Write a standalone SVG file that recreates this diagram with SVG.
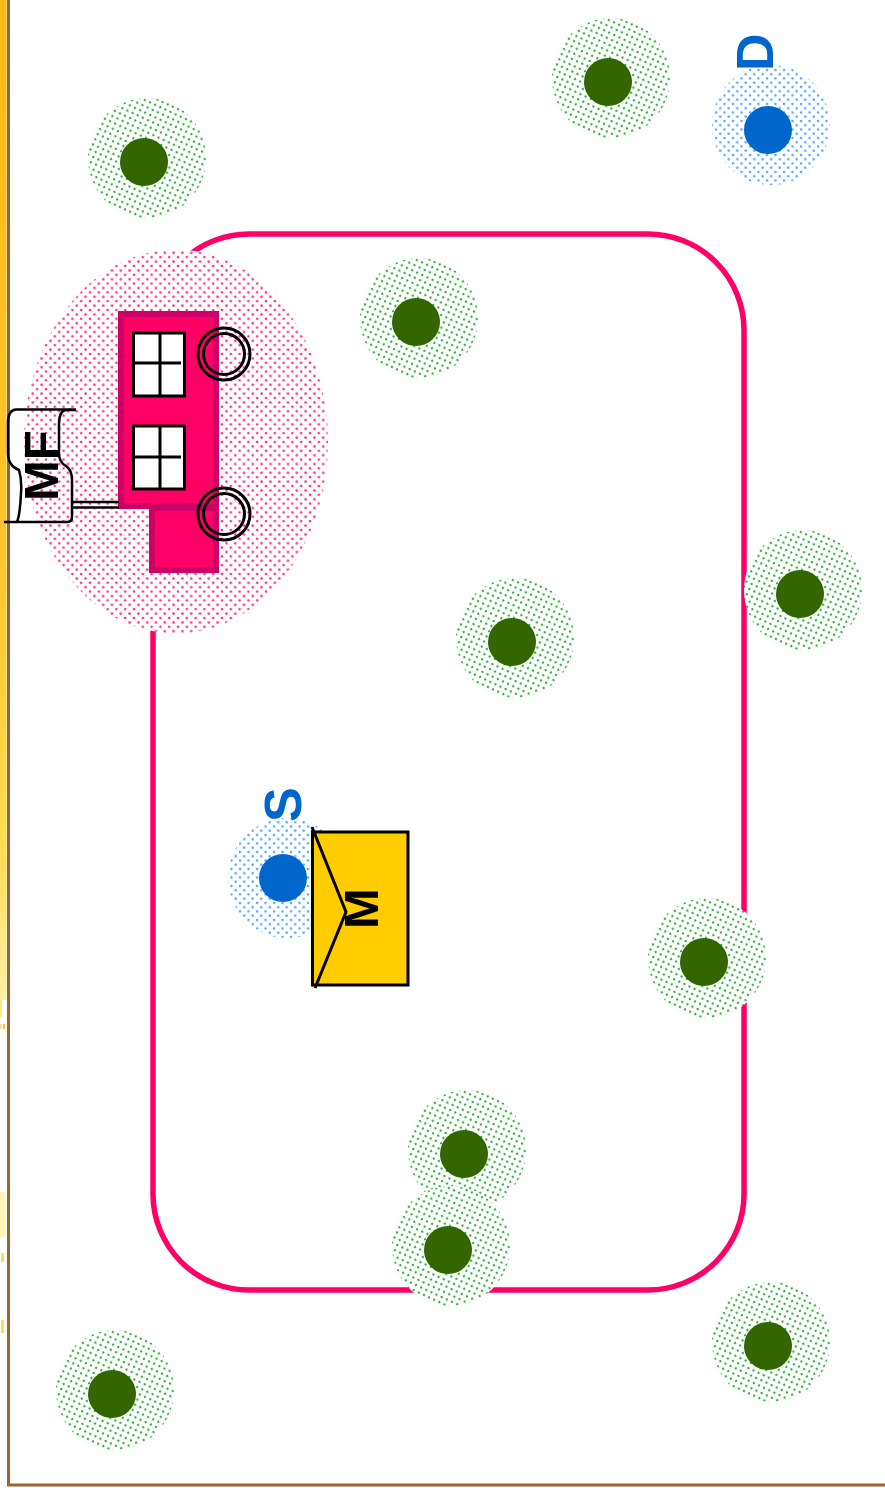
<svg xmlns="http://www.w3.org/2000/svg" width="885" height="1491" viewBox="0 0 885 1491">
<style>
.halo{stroke:none}
.ln{fill:none;stroke:#000;stroke-width:3}
.win{fill:#fff;stroke:#000;stroke-width:3}
.lab{font-family:"Liberation Sans",Arial,sans-serif;font-weight:bold;font-size:49px}
.big{font-size:52px}
.blue{fill:#06c}
.tree{fill:#360}
</style>
<defs>
<linearGradient id="gold" x1="0" y1="0" x2="0" y2="1">
<stop offset="0" stop-color="#fdb913"/><stop offset=".55" stop-color="#fdc42c"/><stop offset=".85" stop-color="#ffdb50"/><stop offset="1" stop-color="#fff0a8"/>
</linearGradient>
<pattern id="pg" width="8" height="8" patternUnits="userSpaceOnUse" patternTransform="rotate(-20)">
<rect width="8" height="8" fill="#fff"/><circle cx="2" cy="2" r="1.200" fill="#2fae3c"/><circle cx="6" cy="6" r="1.200" fill="#2fae3c"/>
</pattern>
<pattern id="pb" width="8.500" height="8.500" patternUnits="userSpaceOnUse">
<rect width="8.500" height="8.500" fill="#fff"/><circle cx="2" cy="2" r="1.300" fill="#4da6ff"/><circle cx="6.250" cy="6.250" r="1.300" fill="#4da6ff"/>
</pattern>
<pattern id="pp" width="8.800" height="8.800" patternUnits="userSpaceOnUse">
<rect width="8.800" height="8.800" fill="#fff"/><circle cx="2" cy="2" r="1.300" fill="#ff2a80"/><circle cx="6.400" cy="6.400" r="1.300" fill="#ff2a80"/>
</pattern>
<g id="t"><ellipse class="halo" cx="3" cy="-4" rx="59" ry="60" fill="url(#pg)"/><circle class="tree" r="24"/></g>
</defs>
<rect width="885" height="1491" fill="#fff"/>
<g id="frame">
<rect x="0" y="0" width="6.500" height="1000" fill="url(#gold)"/>
<rect x="0" y="1000" width="2" height="17" fill="#ffe680"/>
<rect x="0" y="1024" width="2" height="5" fill="#ffd9a8"/>
<rect x="3" y="1024" width="2" height="5" fill="#fdc42c"/>
<rect x="0" y="1192" width="5" height="45" fill="#fff3b8"/>
<rect x="1" y="1253" width="3" height="9" fill="#ffe050"/>
<rect x="1" y="1320" width="3" height="13" fill="#ffe050"/>
<path d="M8.500 0V1485H885" fill="none" stroke="#996633" stroke-width="3"/>
</g>
<g id="connectors">
<rect x="153" y="234" width="591" height="1056" rx="96" ry="96" fill="none" stroke="#f06" stroke-width="5.500"/>
</g>
<g id="tree-1"><use href="#t" x="144" y="162"/></g>
<g id="tree-2"><use href="#t" x="608" y="82"/></g>
<g id="tree-3"><use href="#t" x="416" y="322"/></g>
<g id="tree-4"><use href="#t" x="800" y="594"/></g>
<g id="tree-5"><use href="#t" x="512" y="642"/></g>
<g id="tree-6"><use href="#t" x="704" y="962"/></g>
<g id="tree-7"><use href="#t" x="464" y="1154"/></g>
<g id="tree-8"><use href="#t" x="448" y="1250"/></g>
<g id="tree-9"><use href="#t" x="768" y="1346"/></g>
<g id="tree-10"><use href="#t" x="112" y="1394"/></g>
<g id="node-D">
<ellipse class="halo" cx="771" cy="125" rx="59" ry="60" fill="url(#pb)"/><circle class="blue" cx="768" cy="130" r="24"/>
<text class="lab big blue" transform="translate(773,71) rotate(-90)">D</text></g>
<g id="node-S">
<ellipse class="halo" cx="287" cy="878" rx="59" ry="60" fill="url(#pb)"/><circle class="blue" cx="283" cy="878" r="24"/>
<text class="lab big blue" transform="translate(301,822) rotate(-90)">S</text></g>
<g id="node-M">
<rect x="312.500" y="832" width="95.500" height="153" fill="#fc0" stroke="#000" stroke-width="3"/>
<path class="ln" d="M312 827L346 912L315 988"/>
<text class="lab" transform="translate(378,929) rotate(-90)">M</text>
</g>
<g id="node-MF">
<ellipse cx="176" cy="441.500" rx="152" ry="192" fill="url(#pp)"/>
<rect x="152" y="508" width="64" height="62" fill="#f06" stroke="#c06" stroke-width="6"/>
<rect x="121" y="314" width="95" height="192" fill="#f06" stroke="#c06" stroke-width="6"/>
<rect class="win" x="133.500" y="333" width="51" height="63"/>
<path class="ln" d="M160 333V396M133 363H181"/>
<rect class="win" x="133.500" y="426" width="51" height="63"/>
<path class="ln" d="M160 426V489M133 457H181"/>
<circle class="ln" cx="224" cy="354" r="26"/><circle class="ln" cx="224" cy="354" r="20.500"/>
<circle class="ln" cx="224" cy="514" r="26"/><circle class="ln" cx="224" cy="514" r="20.500"/>
<path d="M72 502H119M72 507.500H119" stroke="#000" stroke-width="2.500" fill="none"/>
<path d="M76 409.500H16Q8 410 8 423V453Q8 466 19 470Q22 480 21 493Q20 515 17 522H4H67Q72 522 72 517V480Q72 470 66 466Q58 462 59 450V424Q59 412 65 410H76" fill="none" stroke="#000" stroke-width="2.500"/>
<text class="lab" transform="translate(58,501) rotate(-90)">MF</text>
</g>
</svg>
